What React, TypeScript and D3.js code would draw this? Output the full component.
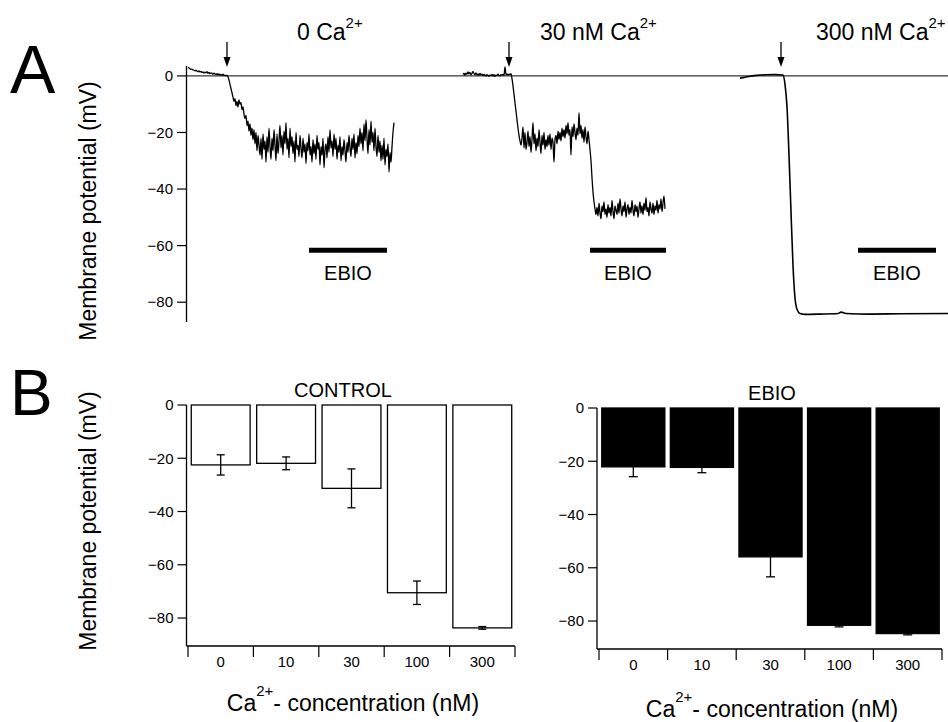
import React from "react";
import * as d3 from "d3";

const FONT = "'Liberation Sans', Arial, sans-serif";

// Panel A: whole-cell recordings, time in s, potential in mV
const sampleStep = 1;
const trace0CaStart = 1;
const trace0Ca = [
  3.0, 2.8, 2.5, 2.3, 2.4, 2.1, 2.0, 1.8, 2.0, 1.7, 1.5, 1.8, 1.4, 1.6, 1.2, 1.4, 1.0, 1.3, 1.1, 1.5,
  0.9, 1.2, 0.8, 1.1, 0.9, 0.6, 1.0, 0.7, 0.5, 0.8, 0.4, 0.7, 0.3, 0.5, 0.2, 0.6, 0.1, 0.3, 0.0, 0.2,
  -0.3, -1.5, -3.0, -4.5, -6.0, -7.5, -9.0, -8.0, -10.5, -9.0, -11.0, -8.5, -10.0, -9.5, -12.0, -11.0,
  -13.5, -15.0, -14.0, -17.5, -16.0, -19.5, -17.0, -21.0, -18.5, -22.5, -19.0, -24.0, -20.0, -26.5,
  -21.0, -24.5, -28.0, -22.0, -29.5,
  -20.5, -26.0, -23.0, -30.5, -21.5, -27.0, -18.5, -25.0, -29.5, -22.0,
  -26.5, -19.0, -24.5, -30.0, -20.5, -27.5, -23.0, -17.5, -25.5, -21.0,
  -28.0, -19.5, -24.0, -16.5, -26.0, -22.0, -29.0, -18.5, -25.0, -21.5,
  -27.5, -23.0, -30.5, -20.0, -26.0, -24.5, -28.5, -21.0, -25.5, -29.0,
  -22.0, -27.0, -24.0, -31.0, -23.5, -26.5, -20.5, -28.0, -25.0, -30.5,
  -22.5, -27.5, -24.0, -29.5, -21.0, -26.0, -23.5, -31.5, -25.0, -28.0,
  -22.0, -32.5, -26.0, -24.0, -29.0, -21.5, -27.0, -19.0, -25.5, -23.0,
  -28.5, -20.5, -26.0, -22.0, -29.5, -24.5, -27.0, -21.5, -30.0, -25.0,
  -28.0, -22.5, -26.5, -30.5, -23.5, -27.0, -21.0, -25.5, -28.5, -22.0,
  -26.0, -20.5, -29.0, -23.5, -27.5, -21.0, -25.0, -18.5, -24.0, -20.0,
  -26.5, -17.0, -23.0, -15.5, -22.0, -27.5, -19.0, -24.5, -16.0, -23.5,
  -20.0, -26.5, -18.5, -25.0, -28.5, -21.0, -27.0, -23.0, -30.0, -24.5,
  -29.5, -22.0, -31.5, -26.0, -28.5, -24.0, -34.0, -27.0, -30.5, -25.0,
  -20.0, -16.5,
];
const trace30CaStart = 276;
const trace30Ca = [
  0.5, 0.9, 0.3, 1.0, 0.6, 1.4, 0.7, 1.2, 0.4, 0.9, 1.6, 0.8, 0.5, 1.1, 0.3, 0.7, 0.2, 0.9, 0.4, 0.6,
  0.1, 0.5, 0.3, 0.0, 0.4, 0.2, -0.1, 0.3, 0.1, 0.5, 0.0, 0.4, -0.2, 0.3, 0.1, 0.6, 0.2, 0.0, 0.4, 0.3,
  0.5, 0.2, 3.2, 0.4, 0.7, 0.3, 0.6, 0.5, 0.8,
  -1.0, -3.5, -6.5, -9.5, -12.5, -15.5, -18.5, -21.0, -23.0, -24.5,
  -22.0, -18.0, -25.5, -20.0, -26.0, -23.5, -19.5, -25.0, -21.5, -27.0,
  -22.5, -16.5, -24.0, -20.5, -26.5, -22.0, -25.0, -19.0, -23.5, -27.5,
  -21.0, -24.5, -20.0, -26.0, -22.5, -25.0,
  -21.0, -24.5, -20.5, -26.0, -22.0, -23.5, -30.5, -22.5, -21.0, -24.0,
  -19.5, -22.5, -20.0, -23.0, -18.5, -21.5, -19.0, -22.0, -17.5, -20.5,
  -16.5, -21.0, -19.0, -28.0, -18.0, -21.5, -17.0, -20.0, -22.5, -18.5,
  -21.0, -13.0, -20.5, -17.5, -22.0, -19.0, -23.5, -18.0, -21.5, -24.0,
  -19.5, -22.5, -26.0,
  -30.0, -36.0, -41.0, -44.5, -47.0, -49.0, -46.5,
  -49.5, -45.0, -48.5, -50.5, -46.0, -48.0, -44.5, -49.0, -47.0, -50.0,
  -45.5, -48.5, -46.5, -49.5, -44.0, -48.0, -50.5, -46.0, -47.5, -49.0,
  -45.0, -48.5, -43.5, -47.0, -49.5, -46.0, -48.0, -44.5, -50.0, -47.0,
  -45.5, -49.0, -46.5, -48.5, -44.0, -47.5, -49.5, -45.5, -48.0, -46.0,
  -50.0, -47.0, -44.5, -48.5, -46.0, -49.0, -45.0, -47.5, -43.0, -48.0,
  -46.5, -49.5, -44.5, -47.0, -48.5, -45.0, -49.0, -46.0, -47.5, -44.0,
  -48.5, -45.5, -47.0, -43.5, -48.0, -45.0, -42.5, -47.0,
];
const trace300Time = [553, 558, 563, 570, 578, 588, 596, 598, 600, 602, 604, 606, 608, 610, 613, 618, 633, 651, 654, 659, 683, 713, 761];
const trace300Volts = [-0.8, -0.5, -0.1, 0.2, 0.4, 0.5, 0.3, -3, -11, -28, -48, -67, -78.5, -82.5, -84, -84.3, -84.2, -84.0, -83.5, -84.0, -84.2, -84.1, -84.0];
const arrowTimes = [40, 322, 594];
const ebioWindows = [
  [122, 200],
  [403, 479],
  [671, 749],
];
const conditionNames = ["0 Ca", "30 nM Ca", "300 nM Ca"];
const yTicksA = [0, -20, -40, -60, -80];

// Panel B: mean ± SEM
const concentrations = ["0", "10", "30", "100", "300"];
const controlMeans = [-22.5, -21.9, -31.3, -70.5, -83.7];
const controlSem = [3.8, 2.4, 7.3, 4.4, 0.5];
const ebioMeans = [-22.1, -22.3, -55.9, -81.6, -84.7];
const ebioSem = [3.7, 2.0, 7.5, 0.6, 0.5];
const yTicksB = [0, -20, -40, -60, -80];

const fmt = d3.format("d");

const PanelA = () => {
  const x = d3.scaleLinear().domain([0, 761]).range([187, 948]);
  const y = d3.scaleLinear().domain([3.5, -87]).range([66, 322]);
  const line = d3
    .line<[number, number]>()
    .x((d) => x(d[0]))
    .y((d) => y(d[1]));
  const smooth = line.curve(d3.curveMonotoneX);

  const pts0 = trace0Ca.map((v, i) => [trace0CaStart + i * sampleStep, v] as [number, number]);
  const pts30 = trace30Ca.map((v, i) => [trace30CaStart + i * sampleStep, v] as [number, number]);
  const pts300 = trace300Time.map((t, i) => [t, trace300Volts[i]] as [number, number]);
  const labelTimes = [110, 353, 629];

  return (
    <g>
      <line x1={186.5} x2={186.5} y1={y(3.5)} y2={y(-87)} stroke="#000" strokeWidth={1.3} />
      {yTicksA.map((t) => (
        <g key={t}>
          <line x1={177} x2={186.5} y1={y(t)} y2={y(t)} stroke="#000" strokeWidth={1.2} />
          <text x={173} y={y(t)} dy="0.35em" textAnchor="end" fontSize={15}>
            {fmt(t)}
          </text>
        </g>
      ))}
      <line x1={186.5} x2={948} y1={y(0)} y2={y(0)} stroke="#000" strokeWidth={1} />
      <path d={line(pts0) || ""} fill="none" stroke="#000" strokeWidth={1.3} strokeLinejoin="round" />
      <path d={line(pts30) || ""} fill="none" stroke="#000" strokeWidth={1.3} strokeLinejoin="round" />
      <path d={smooth(pts300) || ""} fill="none" stroke="#000" strokeWidth={1.6} />
      {arrowTimes.map((t) => (
        <g key={t}>
          <line x1={x(t)} x2={x(t)} y1={42} y2={58} stroke="#000" strokeWidth={1.3} />
          <path d={`M${x(t) - 3.5},57 L${x(t) + 3.5},57 L${x(t)},67 Z`} fill="#000" />
        </g>
      ))}
      {ebioWindows.map(([a, b], i) => (
        <g key={i}>
          <line x1={x(a)} x2={x(b)} y1={y(-61.6)} y2={y(-61.6)} stroke="#000" strokeWidth={5} />
          <text x={(x(a) + x(b)) / 2} y={280} textAnchor="middle" fontSize={20}>
            EBIO
          </text>
        </g>
      ))}
      {conditionNames.map((n, i) => (
        <text key={n} x={x(labelTimes[i])} y={40} fontSize={23}>
          {n}
          <tspan fontSize={15} dy={-12}>
            2+
          </tspan>
        </text>
      ))}
      <text transform="translate(96,211) rotate(-90)" textAnchor="middle" fontSize={23}>
        Membrane potential (mV)
      </text>
      <text x={10} y={93} fontSize={68}>
        A
      </text>
    </g>
  );
};

type BarProps = {
  axisX: number;
  bandStart: number;
  bandEnd: number;
  top: number;
  bottom: number;
  padIn: number;
  padOut: number;
  means: number[];
  sems: number[];
  filled: boolean;
  title: string;
  titleX: number;
  titleY: number;
  xTitleX: number;
  xTitleY: number;
};

const BarPanel = (p: BarProps) => {
  const y = d3.scaleLinear().domain([0, -90.5]).range([p.top, p.bottom]);
  const x = d3
    .scaleBand<string>()
    .domain(concentrations)
    .range([p.bandStart, p.bandEnd])
    .paddingInner(p.padIn)
    .paddingOuter(p.padOut);
  const bw = x.bandwidth();
  const step = (p.bandEnd - p.bandStart) / concentrations.length;
  const edges = d3.range(concentrations.length + 1).map((i) => p.bandStart + i * step);

  return (
    <g>
      {concentrations.map((c, i) => {
        const m = p.means[i];
        const s = p.sems[i];
        const cx = (x(c) as number) + bw / 2;
        const cap = p.filled ? 4.5 : 4;
        return (
          <g key={c}>
            <rect
              x={x(c)}
              y={y(0)}
              width={bw}
              height={y(m) - y(0)}
              fill={p.filled ? "#000" : "#fff"}
              stroke="#000"
              strokeWidth={1.3}
            />
            <line x1={cx} x2={cx} y1={y(m + s)} y2={y(m - s)} stroke="#000" strokeWidth={1.3} />
            <line x1={cx - cap} x2={cx + cap} y1={y(m + s)} y2={y(m + s)} stroke="#000" strokeWidth={1.3} />
            <line x1={cx - cap} x2={cx + cap} y1={y(m - s)} y2={y(m - s)} stroke="#000" strokeWidth={1.3} />
          </g>
        );
      })}
      <line x1={p.axisX} x2={p.axisX} y1={p.top} y2={p.bottom} stroke="#000" strokeWidth={1.3} />
      <line x1={p.axisX} x2={p.bandEnd} y1={p.bottom} y2={p.bottom} stroke="#000" strokeWidth={1.3} />
      {yTicksB.map((t) => (
        <g key={t}>
          <line x1={p.axisX - 9} x2={p.axisX} y1={y(t)} y2={y(t)} stroke="#000" strokeWidth={1.2} />
          <text x={p.axisX - 13} y={y(t)} dy="0.35em" textAnchor="end" fontSize={15}>
            {fmt(t)}
          </text>
        </g>
      ))}
      {edges.map((e, i) => (
        <line key={i} x1={e} x2={e} y1={p.bottom} y2={p.bottom + 11} stroke="#000" strokeWidth={1.2} />
      ))}
      {concentrations.map((c) => (
        <text key={c} x={(x(c) as number) + bw / 2} y={p.bottom + 21} textAnchor="middle" fontSize={15}>
          {c}
        </text>
      ))}
      <text x={p.titleX} y={p.titleY} textAnchor="middle" fontSize={20}>
        {p.title}
      </text>
      <text x={p.xTitleX} y={p.xTitleY} textAnchor="middle" fontSize={23}>
        Ca
        <tspan fontSize={15} dy={-15}>
          2+
        </tspan>
        <tspan dy={15}>- concentration (nM)</tspan>
      </text>
    </g>
  );
};

const App = () => {
  return (
    <svg
      width={948}
      height={722}
      style={{ position: "absolute", left: 0, top: 0, background: "#fff" }}
      fontFamily={FONT}
    >
      <rect width={948} height={722} fill="#fff" />
      <PanelA />
      <BarPanel
        axisX={186.5}
        bandStart={188}
        bandEnd={515}
        top={405}
        bottom={646}
        padIn={0.1}
        padOut={0.05}
        means={controlMeans}
        sems={controlSem}
        filled={false}
        title="CONTROL"
        titleX={343}
        titleY={397}
        xTitleX={353}
        xTitleY={711}
      />
      <BarPanel
        axisX={597}
        bandStart={599}
        bandEnd={942}
        top={408}
        bottom={649}
        padIn={0.08}
        padOut={0.04}
        means={ebioMeans}
        sems={ebioSem}
        filled={true}
        title="EBIO"
        titleX={772}
        titleY={400}
        xTitleX={772}
        xTitleY={717}
      />
      <text transform="translate(96,521) rotate(-90)" textAnchor="middle" fontSize={23}>
        Membrane potential (mV)
      </text>
      <text x={10} y={415} fontSize={64}>
        B
      </text>
    </svg>
  );
};

export default App;
